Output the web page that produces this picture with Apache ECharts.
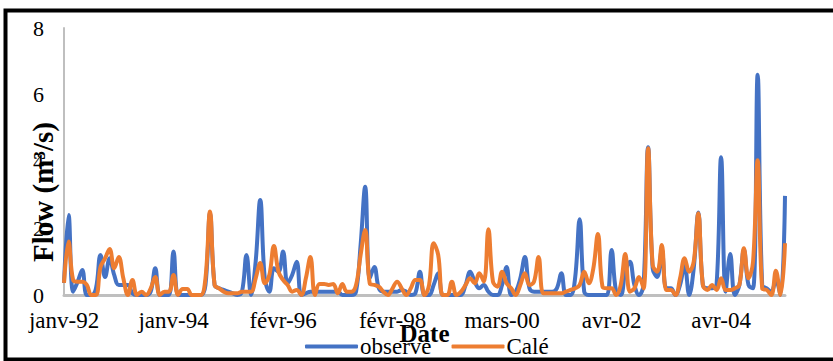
<!DOCTYPE html>
<html>
<head>
<meta charset="utf-8">
<script src="https://cdn.jsdelivr.net/npm/echarts@6/dist/echarts.min.js"></script>
<style>
  html, body { margin: 0; padding: 0; background: #fff; }
  #chart { width: 833px; height: 361px; }
</style>
</head>
<body>
<div id="chart"></div>
<script>
// tick labels shown every 24 points on the x axis
const tickLabels = ['janv-92', 'janv-94', 'févr-96', 'févr-98', 'mars-00', 'avr-02', 'avr-04'];
const yTicks = [0, 2, 4, 6, 8];

const observe = [
  0.36, 2.4, 0.1, 0.4, 0.75, 0, 0, 0.2, 1.2, 0.54, 1.1, 0.6, 0.3, 0.3, 0.3, 0.05, 0, 0, 0, 0.1,
  0.8, 0, 0, 0, 1.3, 0, 0, 0, 0, 0, 0, 0.3, 2.45, 0.3, 0.2, 0.15, 0.1, 0.05, 0, 0.1,
  1.2, 0, 1.0, 2.85, 0.5, 0.1, 0.8, 0.7, 1.3, 0.35, 0.6, 1.0, 0, 0.05, 0.1, 0.1, 0.1, 0.1, 0.1, 0.1,
  0.1, 0, 0, 0, 0.1, 1.5, 3.24, 0.5, 0.84, 0.2, 0.1, 0.1, 0.1, 0.1, 0.15, 0.1, 0, 0.05, 0.7, 0,
  0, 0.3, 0.65, 0, 0, 0, 0, 0, 0.3, 0.7, 0.4, 0.2, 0.3, 0.1, 0, 0, 0.3, 0.84, 0, 0.1,
  0.5, 1.14, 0.2, 0.1, 0.1, 0.1, 0.1, 0.1, 0.2, 0.65, 0, 0, 0.5, 2.27, 0.1, 0, 0, 0, 0, 0,
  1.35, 0.1, 0, 0.7, 1.0, 0.3, 0, 0.3, 4.43, 0.8, 0.54, 1.35, 0.2, 0.2, 0, 0.3, 0.9, 0, 0.8, 2.47,
  0.3, 0.2, 0.2, 0.3, 4.13, 0.1, 1.23, 0, 0.3, 1.35, 0.3, 0.2, 6.6, 0.3, 0.2, 0.1, 0.45, 0, 2.97
];

// calibrated model (Calé)
const cale = [
  0.36, 1.6, 0.45, 0.4, 0.4, 0.3, 0, 0, 0.84, 1.1, 1.38, 0.8, 1.14, 0.5, 0, 0.45, 0, 0.1, 0, 0.2,
  0.54, 0, 0.1, 0.1, 0.6, 0, 0.18, 0.18, 0, 0, 0, 0.5, 2.5, 0.3, 0.2, 0.1, 0.05, 0.05, 0.05, 0.1,
  0.1, 0.1, 0.5, 0.96, 0.35, 0.6, 1.47, 0.7, 0.45, 0.3, 0.1, 0.15, 0, 0.5, 1.14, 0, 0.33, 0.33, 0.3, 0.33,
  0.05, 0.33, 0.1, 0.1, 0.3, 1.2, 1.95, 0.35, 0.3, 0.25, 0.1, 0, 0.2, 0.4, 0.2, 0, 0.2, 0.45, 0.45, 0,
  0.3, 1.55, 1.2, 0, 0, 0.4, 0, 0.1, 0.3, 0.5, 0.35, 0.65, 0.4, 1.97, 0.4, 0.25, 0.7, 0.35, 0.2, 0,
  0.3, 0.65, 0.3, 0.4, 1.14, 0.05, 0.05, 0.05, 0.05, 0.05, 0.1, 0.15, 0.2, 0.3, 0.7, 0.35, 0.8, 1.83, 0.25, 0.2,
  0.2, 0, 0.3, 1.23, 0.1, 0.2, 0.54, 0.2, 4.4, 0.9, 0.7, 1.5, 0.15, 0.15, 0, 0.5, 1.1, 0.7, 1.0, 2.45,
  0.3, 0.15, 0.3, 0.15, 0.5, 0.15, 0.15, 0.2, 0.3, 1.4, 0.5, 1.0, 4.04, 0.2, 0.15, 0, 0.73, 0, 1.55
];

const step = 24;
const points = observe.map((v, i) => String(i));
const font = '"Liberation Serif", "Times New Roman", serif';

const chart = echarts.init(document.getElementById('chart'), null, { renderer: 'svg' });
chart.setOption({
  animation: false,
  backgroundColor: '#fff',
  grid: { left: 64, right: 48, top: 28, bottom: 66 },
  xAxis: {
    type: 'category',
    data: points,
    boundaryGap: false,
    name: 'Date',
    nameLocation: 'middle',
    nameGap: 26,
    nameMoveOverlap: false,
    nameTextStyle: { fontFamily: font, fontSize: 25, fontWeight: 'bold', color: '#000' },
    axisLine: { lineStyle: { color: '#BFBFBF', width: 3 } },
    axisTick: { show: false },
    axisLabel: {
      interval: step - 1,
      margin: 14,
      fontFamily: font, fontSize: 23, color: '#000',
      formatter: (v, i) => tickLabels[i / step] || ''
    },
    splitLine: { show: false }
  },
  yAxis: {
    type: 'value',
    min: yTicks[0],
    max: yTicks[yTicks.length - 1],
    interval: 2,
    axisLine: { show: true, lineStyle: { color: '#BFBFBF', width: 2 } },
    axisTick: { show: false },
    axisLabel: { margin: 20, fontFamily: font, fontSize: 22, color: '#000' },
    splitLine: { show: false }
  },
  legend: {
    left: 300,
    top: 330,
    icon: 'roundRect',
    itemWidth: 53,
    itemHeight: 4,
    itemGap: 20,
    textStyle: { fontFamily: font, fontSize: 23, color: '#000', padding: [0, 0, 0, -3] },
    data: ['observe', 'Calé']
  },
  graphic: [
    {
      type: 'rect', z: 100, silent: true,
      shape: { x: 5.5, y: 10.5, width: 900, height: 349 },
      style: { fill: 'none', stroke: '#000', lineWidth: 4 }
    },
    {
      type: 'text', z: 100,
      x: 43, y: 192, rotation: Math.PI / 2,
      style: {
        text: 'Flow (m³/s)', fill: '#000',
        font: 'bold 29px ' + font,
        textAlign: 'center', textVerticalAlign: 'middle'
      }
    }
  ],
  series: [
    {
      name: 'observe', type: 'line', data: observe,
      smooth: 0.4, symbol: 'none',
      lineStyle: { color: '#4472C4', width: 4 },
      itemStyle: { color: '#4472C4' }
    },
    {
      name: 'Calé', type: 'line', data: cale,
      smooth: 0.4, symbol: 'none',
      lineStyle: { color: '#ED7D31', width: 4 },
      itemStyle: { color: '#ED7D31' }
    }
  ]
});
</script>
</body>
</html>
